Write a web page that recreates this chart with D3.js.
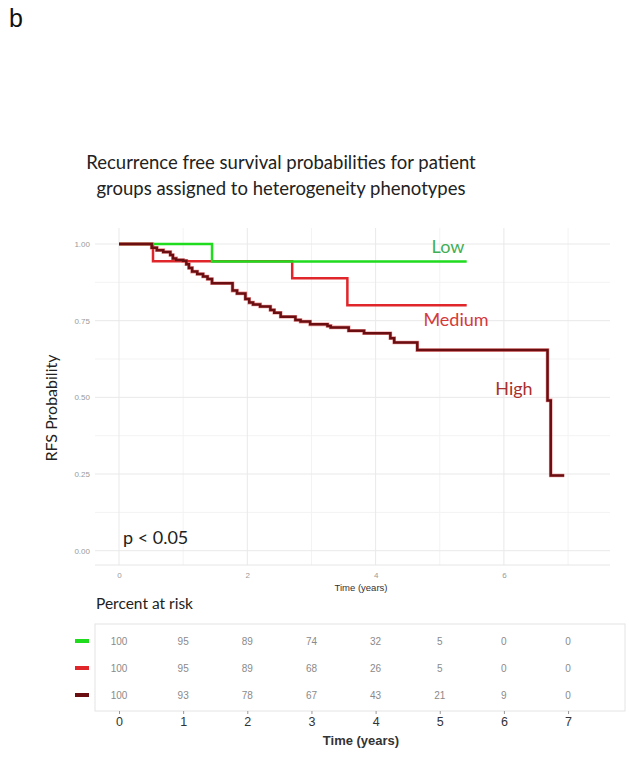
<!DOCTYPE html>
<html><head><meta charset="utf-8">
<script src="https://cdn.jsdelivr.net/npm/d3@7"></script>
<style>body{margin:0;background:#fff}svg{display:block}</style>
</head><body>
<svg id="c" width="629" height="761"></svg>
<script>
// ---- data ----
const groups = ["Low", "Medium", "High"];
const lowTimes = [0, 1.45, 5.42];
const lowSurv  = [1.0, 0.943, 0.943];
const medTimes = [0, 0.53, 2.70, 3.56, 5.42];
const medSurv  = [1.0, 0.944, 0.888, 0.80, 0.80];
const highTimes = [0, 0.51, 0.59, 0.69, 0.80, 0.84, 0.89, 1.00, 1.05, 1.09, 1.14, 1.22, 1.31, 1.38, 1.45,
  1.77, 1.84, 1.97, 2.03, 2.09, 2.20, 2.36, 2.42, 2.52, 2.75, 2.83, 2.98, 3.25, 3.30, 3.58, 3.82, 4.23, 4.29, 4.65,
  6.68, 6.73, 6.94];
const highSurv  = [1.0, 0.988, 0.980, 0.974, 0.964, 0.953, 0.948, 0.945, 0.934, 0.922, 0.910, 0.902, 0.894, 0.886, 0.872,
  0.848, 0.839, 0.821, 0.809, 0.803, 0.796, 0.785, 0.776, 0.763, 0.752, 0.747, 0.738, 0.733, 0.728, 0.717, 0.709, 0.693, 0.679, 0.654,
  0.49, 0.245, 0.245];
const riskTimes = [0, 1, 2, 3, 4, 5, 6, 7];
const riskLow  = [100, 95, 89, 74, 32, 5, 0, 0];
const riskMed  = [100, 95, 89, 68, 26, 5, 0, 0];
const riskHigh = [100, 93, 78, 67, 43, 21, 9, 0];
const yTicks = [0, 0.25, 0.5, 0.75, 1.0];
const xTicks = [0, 2, 4, 6];
const lineColors = ["#1fdc1f", "#e0262a", "#6a0e12"];
const labelColors = ["#3fae55", "#d43a3a", "#a8302f"];

const svg = d3.select("#c");
const x = d3.scaleLinear().domain([0, 1]).range([119, 183.15]);
const y = d3.scaleLinear().domain([0, 1]).range([550.7, 244]);

// "b"
svg.append("text").attr("x", 9).attr("y", 27).attr("font-family", "Liberation Sans, Arial, sans-serif")
  .attr("font-size", 25).attr("fill", "#111").text("b");

// title
const title = ["Recurrence free survival probabilities for patient", "groups assigned to heterogeneity phenotypes"];
svg.selectAll(".title").data(title).enter().append("text")
  .attr("x", 281).attr("y", (d, i) => 169 + i * 26).attr("text-anchor", "middle")
  .attr("font-family", "Lato, 'Open Sans', sans-serif").attr("font-size", 18.5).attr("fill", "#222").text(d => d);

// grid
const pLeft = 95, pRight = 610, pTop = 228, pBottom = 565;
const g = svg.append("g");
const minorY = [0.125, 0.375, 0.625, 0.875];
const minorX = [1, 3, 5, 7];
g.selectAll(".mny").data(minorY).enter().append("line")
  .attr("x1", pLeft).attr("x2", pRight).attr("y1", d => y(d)).attr("y2", d => y(d)).attr("stroke", "#f3f3f3").attr("stroke-width", 1);
g.selectAll(".mnx").data(minorX).enter().append("line")
  .attr("y1", pTop).attr("y2", pBottom).attr("x1", d => x(d)).attr("x2", d => x(d)).attr("stroke", "#f3f3f3").attr("stroke-width", 1);
g.selectAll(".mjy").data(yTicks).enter().append("line")
  .attr("x1", pLeft).attr("x2", pRight).attr("y1", d => y(d)).attr("y2", d => y(d)).attr("stroke", "#e9e9e9").attr("stroke-width", 1);
g.selectAll(".mjx").data(xTicks).enter().append("line")
  .attr("y1", pTop).attr("y2", pBottom).attr("x1", d => x(d)).attr("x2", d => x(d)).attr("stroke", "#e9e9e9").attr("stroke-width", 1);
g.append("line").attr("x1", pLeft).attr("x2", pRight).attr("y1", pBottom).attr("y2", pBottom).attr("stroke", "#e6e6e6");

// axes via d3
const yAxis = svg.append("g").attr("transform", "translate(92,0)")
  .call(d3.axisLeft(y).tickValues(yTicks).tickFormat(d3.format(".2f")).tickSize(0).tickPadding(2));
yAxis.select(".domain").remove();
yAxis.selectAll("text").attr("font-family", "Liberation Sans, Arial, sans-serif").attr("font-size", 8).attr("fill", "#9a9a9a");
const xAxis = svg.append("g").attr("transform", "translate(0,570)")
  .call(d3.axisBottom(x).tickValues(xTicks).tickFormat(d3.format("d")).tickSize(0).tickPadding(2));
xAxis.select(".domain").remove();
xAxis.selectAll("text").attr("font-family", "Liberation Sans, Arial, sans-serif").attr("font-size", 8).attr("fill", "#9a9a9a");

svg.append("text").attr("x", 361).attr("y", 591).attr("text-anchor", "middle")
  .attr("font-family", "Liberation Sans, Arial, sans-serif").attr("font-size", 9.5).attr("fill", "#333").text("Time (years)");
svg.append("text").attr("transform", "translate(57,408) rotate(-90)").attr("text-anchor", "middle")
  .attr("font-family", "Lato, 'Open Sans', sans-serif").attr("font-size", 16).attr("fill", "#222").text("RFS Probability");

// curves
const series = [
  {t: lowTimes, s: lowSurv}, {t: medTimes, s: medSurv}, {t: highTimes, s: highSurv}
];
const line = d3.line().x(d => x(d[0])).y(d => y(d[1])).curve(d3.curveStepAfter);
[1, 0, 2].forEach(i => {
  const pts = series[i].t.map((t, j) => [t, series[i].s[j]]);
  if (i === 2) {
    svg.append("path").attr("d", line(pts)).attr("fill", "none").attr("stroke", "#e04848").attr("stroke-width", 3.6).attr("stroke-opacity", 0.6);
  }
  svg.append("path").attr("d", line(pts)).attr("fill", "none").attr("stroke", lineColors[i]).attr("stroke-width", 2.5);
});

// labels
const labelPos = [[448, 253], [456, 326], [514, 395]];
svg.selectAll(".glab").data(groups).enter().append("text")
  .attr("x", (d, i) => labelPos[i][0]).attr("y", (d, i) => labelPos[i][1]).attr("text-anchor", "middle")
  .attr("font-family", "Lato, 'Open Sans', sans-serif").attr("font-size", 18).attr("fill", (d, i) => labelColors[i]).text(d => d);

svg.append("text").attr("x", 123).attr("y", 544).attr("font-family", "Lato, 'Open Sans', sans-serif")
  .attr("font-size", 18).attr("fill", "#222").text("p < 0.05");

// risk table
svg.append("text").attr("x", 96).attr("y", 609).attr("font-family", "Lato, 'Open Sans', sans-serif")
  .attr("font-size", 15.5).attr("fill", "#222").text("Percent at risk");
svg.append("rect").attr("x", 95).attr("y", 624).attr("width", 530).attr("height", 87)
  .attr("fill", "none").attr("stroke", "#e4e4e4").attr("stroke-width", 1);
const rows = [riskLow, riskMed, riskHigh];
const rowY = [645, 672, 699];
rows.forEach((r, i) => {
  svg.append("line").attr("x1", 75).attr("x2", 89).attr("y1", rowY[i] - 4).attr("y2", rowY[i] - 4)
    .attr("stroke", lineColors[i]).attr("stroke-width", 4);
  svg.selectAll(".r" + i).data(r).enter().append("text")
    .attr("x", (d, j) => x(riskTimes[j])).attr("y", rowY[i]).attr("text-anchor", "middle")
    .attr("font-family", "Liberation Sans, Arial, sans-serif").attr("font-size", 10).attr("fill", "#8a8a8a").text(d => d);
});
const bAxis = svg.append("g").attr("transform", "translate(0,711)")
  .call(d3.axisBottom(x).tickValues(riskTimes).tickSize(3).tickPadding(3).tickFormat(d3.format("d")));
bAxis.select(".domain").remove();
bAxis.selectAll("line").attr("stroke", "#999");
bAxis.selectAll("text").attr("font-family", "Liberation Sans, Arial, sans-serif").attr("font-size", 12.5).attr("fill", "#333");
svg.append("text").attr("x", 361).attr("y", 745).attr("text-anchor", "middle")
  .attr("font-family", "Liberation Sans, Arial, sans-serif").attr("font-size", 13).attr("font-weight", "bold").attr("fill", "#333").text("Time (years)");
</script>
</body></html>
